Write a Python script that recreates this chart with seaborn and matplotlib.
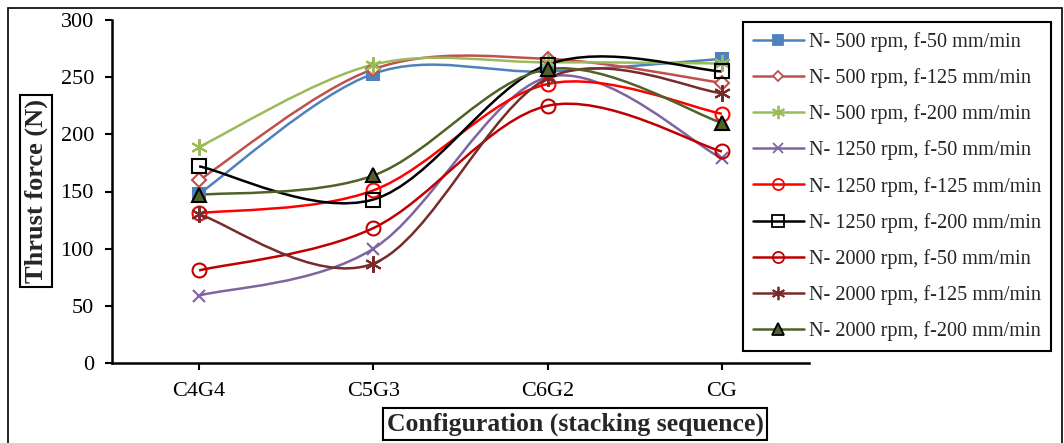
import numpy as np
import pandas as pd
import seaborn as sns
import matplotlib.pyplot as plt
from matplotlib.path import Path
from matplotlib.patches import PathPatch, Rectangle
from matplotlib.lines import Line2D

# Configurations on the x axis
configs = ["C4G4", "C5G3", "C6G2", "CG"]

# Thrust force (N) for each speed / feed combination
n500_f50 = [148, 253, 255, 266]
n500_f125 = [160, 257, 266, 245]
n500_f200 = [189, 261, 263, 262]
n1250_f50 = [59, 100, 250, 179]
n1250_f125 = [131, 151, 244, 218]
n1250_f200 = [172, 143, 261, 255]
n2000_f50 = [81, 118, 225, 185]
n2000_f125 = [130, 87, 249, 236]
n2000_f200 = [147, 164, 257, 210]

labels = ["N- 500 rpm, f-50 mm/min", "N- 500 rpm, f-125 mm/min", "N- 500 rpm, f-200 mm/min",
          "N- 1250 rpm, f-50 mm/min", "N- 1250 rpm, f-125 mm/min", "N- 1250 rpm, f-200 mm/min",
          "N- 2000 rpm, f-50 mm/min", "N- 2000 rpm, f-125 mm/min", "N- 2000 rpm, f-200 mm/min"]
series = [n500_f50, n500_f125, n500_f200, n1250_f50, n1250_f125,
          n1250_f200, n2000_f50, n2000_f125, n2000_f200]

star = (6, 2, 0)
# colour, marker, marker face, marker edge, marker size
styles = [
    ("#4F81BD", "s", "#4F81BD", "#4F81BD", 9),
    ("#C0504D", "D", "white", "#C0504D", 7),
    ("#9BBB59", star, "#9BBB59", "#9BBB59", 12),
    ("#8064A2", "x", "#8064A2", "#8064A2", 9),
    ("#FF0000", "o", "none", "#FF0000", 10),
    ("#000000", "s", "none", "#000000", 10),
    ("#C00000", "o", "none", "#C00000", 10),
    ("#772C2A", star, "#772C2A", "#772C2A", 12),
    ("#4F6228", "^", "#4F6228", "#000000", 10),
]

sns.set_theme(style="ticks")
plt.rcParams["font.family"] = ["Liberation Serif", "DejaVu Serif"]

fig = plt.figure(figsize=(10.64, 4.43), dpi=100)
ax = fig.add_axes([112 / 1064, 80 / 443, 697 / 1064, 343 / 443])

x = np.arange(len(configs))


def smooth_path(xs, ys):
    # Excel style smoothed line: cubic Bezier through the points
    pts = np.column_stack([xs, ys]).astype(float)
    verts = [pts[0]]
    codes = [Path.MOVETO]
    n = len(pts)
    for i in range(n - 1):
        p0 = pts[max(i - 1, 0)]
        p1 = pts[i]
        p2 = pts[i + 1]
        p3 = pts[min(i + 2, n - 1)]
        verts += [p1 + (p2 - p0) / 6, p2 - (p3 - p1) / 6, p2]
        codes += [Path.CURVE4] * 3
    return Path(verts, codes)


handles = []
for vals, lab, (col, mk, mfc, mec, ms) in zip(series, labels, styles):
    ax.add_patch(PathPatch(smooth_path(x, vals), facecolor="none", edgecolor=col, lw=1.8, zorder=2))
    df = pd.DataFrame({"x": x, "y": vals})
    sns.lineplot(data=df, x="x", y="y", ax=ax, linestyle="", marker=mk, markersize=ms,
                 markerfacecolor=mfc, markeredgecolor=mec, markeredgewidth=1.5, zorder=3)
    handles.append(Line2D([], [], color=col, lw=1.8, marker=mk, markersize=ms * 0.8,
                          markerfacecolor=mfc, markeredgecolor=mec, markeredgewidth=1.3))

ax.set_xlim(-0.5, 3.5)
ax.set_ylim(0, 300)
ax.set_yticks(range(0, 301, 50))
ax.set_xticks(x)
ax.set_xticklabels(configs)
ax.set_xlabel("")
ax.set_ylabel("")
for s in ["top", "right"]:
    ax.spines[s].set_visible(False)
for s in ["left", "bottom"]:
    ax.spines[s].set_linewidth(1.8)
    ax.spines[s].set_color("black")
ax.tick_params(axis="both", direction="out", length=5, width=1.5, colors="black", labelsize=16)
ax.tick_params(axis="y", pad=8)
ax.tick_params(axis="x", pad=9)

leg = fig.legend(handles, labels, loc="upper left", bbox_to_anchor=(743 / 1064, 1 - 22 / 443),
                 bbox_transform=fig.transFigure, fontsize=14.6, frameon=True, fancybox=False,
                 edgecolor="black", framealpha=1, handlelength=2.5, labelspacing=0.8,
                 borderpad=0.5, handletextpad=0.25, borderaxespad=0)
leg.get_frame().set_linewidth(1.5)

box = dict(boxstyle="square,pad=0.15", facecolor="white", edgecolor="black", lw=1.5)
fig.text(36 / 1064, 1 - 191 / 443, "Thrust force (N)", rotation=90, ha="center", va="center",
         fontsize=19, fontweight="bold", bbox=box)
fig.text(575 / 1064, 1 - 424 / 443, "Configuration (stacking sequence)", ha="center", va="center",
         fontsize=18.5, fontweight="bold", bbox=box)

fig.patches.append(Rectangle((8 / 1064, -0.1), 1054 / 1064, 1.1 - 8 / 443, transform=fig.transFigure,
                             fill=False, edgecolor="black", lw=1.2))

fig.savefig("out.png", dpi=100)
